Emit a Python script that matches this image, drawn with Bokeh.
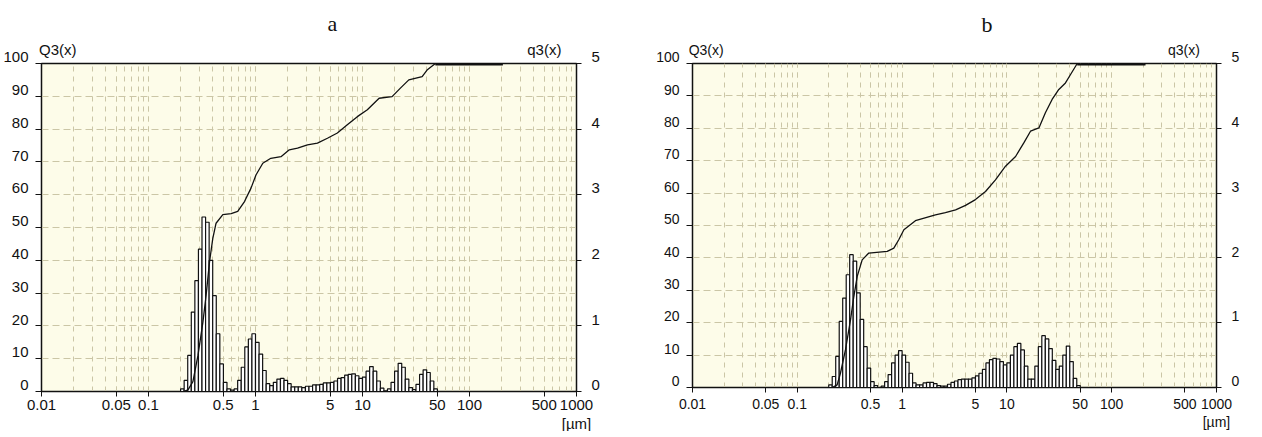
from bokeh.plotting import figure
from bokeh.models import Range1d, LinearAxis, LogAxis, FixedTicker, Title
from bokeh.layouts import row
from bokeh.embed import file_html
from bokeh.resources import INLINE

# ---------------- data ----------------
# size-class edges of the histogram [µm]
size_edges = [0.1995, 0.2154, 0.2326, 0.2512, 0.2712, 0.2929, 0.3162, 0.3415, 0.3687, 0.3981,
              0.4299, 0.4642, 0.5012, 0.5412, 0.5843, 0.6310, 0.6813, 0.7356, 0.7943, 0.8577,
              0.9261, 1.000, 1.080, 1.166, 1.259, 1.359, 1.468, 1.585, 1.711, 1.848,
              1.995, 2.154, 2.326, 2.512, 2.712, 2.929, 3.162, 3.415, 3.687, 3.981,
              4.299, 4.642, 5.012, 5.412, 5.843, 6.310, 6.813, 7.356, 7.943, 8.577,
              9.261, 10.00, 10.80, 11.66, 12.59, 13.59, 14.68, 15.85, 17.11, 18.48,
              19.95, 21.54, 23.26, 25.12, 27.12, 29.29, 31.62, 34.15, 36.87, 39.81,
              42.99, 46.42, 50.12]

# density distribution q3(x), panel a
q3_a = [0.04, 0.17, 0.55, 1.21, 1.69, 2.17, 2.66, 2.58, 2.00, 1.46,
        0.88, 0.42, 0.14, 0.04, 0.02, 0.04, 0.17, 0.37, 0.68, 0.80,
        0.88, 0.75, 0.57, 0.32, 0.12, 0.09, 0.14, 0.19, 0.20, 0.17,
        0.12, 0.07, 0.07, 0.07, 0.06, 0.08, 0.08, 0.10, 0.10, 0.11,
        0.13, 0.13, 0.14, 0.16, 0.20, 0.21, 0.25, 0.26, 0.27, 0.24,
        0.20, 0.22, 0.31, 0.38, 0.31, 0.16, 0.05, 0.01, 0.04, 0.14,
        0.31, 0.43, 0.37, 0.19, 0.06, 0.03, 0.11, 0.26, 0.33, 0.29,
        0.16, 0.04]

# density distribution q3(x), panel b
q3_b = [0.04, 0.17, 0.48, 1.02, 1.38, 1.74, 2.05, 1.95, 1.46, 1.05,
        0.63, 0.30, 0.09, 0.03, 0.00, 0.02, 0.09, 0.20, 0.38, 0.50,
        0.57, 0.50, 0.39, 0.22, 0.07, 0.04, 0.04, 0.07, 0.08, 0.08,
        0.06, 0.03, 0.02, 0.02, 0.05, 0.08, 0.10, 0.12, 0.13, 0.13,
        0.13, 0.15, 0.18, 0.22, 0.28, 0.38, 0.43, 0.45, 0.44, 0.40,
        0.35, 0.38, 0.50, 0.63, 0.68, 0.58, 0.33, 0.13, 0.13, 0.33,
        0.63, 0.80, 0.75, 0.60, 0.42, 0.28, 0.33, 0.50, 0.64, 0.40,
        0.14, 0.03]

# cumulative distribution Q3(x) [%], panel a
Q3_a_x = [0.21, 0.234, 0.26, 0.29, 0.322, 0.346, 0.372, 0.399, 0.428, 0.495,
          0.592, 0.682, 0.789, 0.908, 1.01, 1.17, 1.39, 1.73, 2.07, 2.47,
          3.06, 3.79, 4.70, 5.82, 7.21, 8.95, 11.1, 14.3, 18.9, 22.6,
          27.1, 36.1, 40.1, 48.0, 205]
Q3_a_y = [0, 0.5, 3, 11, 21, 29.5, 39.6, 46.7, 51.3, 53.9,
          54.2, 54.9, 57.9, 62, 66, 69.6, 71.1, 71.6, 73.7, 74.2,
          75.2, 75.7, 77.2, 78.8, 81.3, 83.8, 85.9, 89.4, 89.9, 92.5,
          95, 96, 98, 100, 100]

# cumulative distribution Q3(x) [%], panel b
Q3_b_x = [0.215, 0.24, 0.258, 0.288, 0.322, 0.346, 0.373, 0.416, 0.481, 0.721,
          0.834, 0.929, 1.04, 1.34, 2.08, 2.59, 3.24, 4.03, 5.01, 6.25,
          7.78, 9.70, 12.1, 14.5, 16.8, 20.2, 23.3, 27.0, 31.3, 36.2,
          40.5, 46.9, 210]
Q3_b_y = [0, 0.8, 4.4, 11.6, 20.9, 28, 34.3, 39.4, 41.5, 42,
          43, 45.6, 48.7, 51.5, 53.3, 54, 54.8, 56.2, 58, 60.5,
          64.1, 68.3, 71.3, 75.5, 79.1, 80.1, 84.8, 88.9, 92, 94,
          96.6, 100, 100]

x_tick_values = [0.01, 0.05, 0.1, 0.5, 1, 5, 10, 50, 100, 500, 1000]
x_tick_labels = ["0.01", "0.05", "0.1", "0.5", "1", "5", "10", "50", "100", "500", "1000\n[µm]"]
left_ticks = [0, 10, 20, 30, 40, 50, 60, 70, 80, 90, 100]
left_labels = ["0", "10", "20", "30", "40", "50", "60", "70", "80", "90", "100"]
right_ticks = [0, 1, 2, 3, 4, 5]
right_labels = ["0", "1", "2", "3", "4", "5"]
caption_labels = ["Q3(x)", "q3(x)"]

# ---------------- style ----------------
FONT = "Liberation Sans, Arial, sans-serif"
SERIF = "Liberation Serif, Times New Roman, serif"
BG = "#fdfce9"
GRID = "#cbc6a6"
INK = "#111111"

minor_x = [m * d for d in [0.01, 0.1, 1, 10, 100] for m in range(1, 10)] + [1000]


def make_panel(title, q3_vals, cx, cy, fw, fh, bl, br, bt, bb, fs, xstand, caption_x, toff):
    p = figure(x_axis_type="log", x_range=Range1d(0.01, 1000), y_range=Range1d(0, 100),
               frame_width=fw, frame_height=fh, title=None,
               min_border_left=bl, min_border_right=br, min_border_top=bt, min_border_bottom=bb,
               output_backend="svg", toolbar_location=None,
               background_fill_color=BG, border_fill_color="white")
    p.extra_y_ranges = {"q3": Range1d(0, 5)}

    p.outline_line_color = INK
    p.outline_line_width = 1.5

    # x axis (bottom)
    xt = FixedTicker(ticks=x_tick_values, minor_ticks=minor_x)
    p.xaxis.ticker = xt
    p.xaxis.major_label_overrides = {v: s for v, s in zip(x_tick_values, x_tick_labels)}
    p.xaxis.minor_tick_line_color = None
    p.xaxis.major_tick_in = 0
    p.xaxis.major_tick_out = 5
    p.xaxis.major_label_standoff = xstand
    p.xaxis.major_label_text_font = FONT
    p.xaxis.major_label_text_font_size = f"{fs}px"
    p.xaxis.major_label_text_line_height = 1.15
    p.xaxis.major_label_text_color = INK
    p.xaxis.axis_line_color = INK
    p.xaxis.major_tick_line_color = INK

    # left axis (labels sit just above their ticks)
    yt = FixedTicker(ticks=left_ticks)
    p.yaxis.ticker = yt
    p.yaxis.major_label_overrides = {v: s + "\n" for v, s in zip(left_ticks, left_labels)}
    p.yaxis.minor_tick_line_color = None
    p.yaxis.major_tick_in = 0
    p.yaxis.major_tick_out = 6
    p.yaxis.major_label_standoff = 7
    p.yaxis.major_label_text_font = FONT
    p.yaxis.major_label_text_font_size = f"{fs}px"
    p.yaxis.major_label_text_line_height = 0.8
    p.yaxis.major_label_text_color = INK
    p.yaxis.axis_line_color = INK
    p.yaxis.major_tick_line_color = INK

    # grids
    p.xgrid.ticker = xt
    p.xgrid.grid_line_color = GRID
    p.xgrid.grid_line_dash = "5 5"
    p.xgrid.minor_grid_line_color = GRID
    p.xgrid.minor_grid_line_dash = "5 5"
    p.ygrid.ticker = yt
    p.ygrid.grid_line_color = GRID
    p.ygrid.grid_line_dash = "7 4"

    # right axis q3(x)
    ra = LinearAxis(y_range_name="q3", ticker=FixedTicker(ticks=right_ticks),
                    major_label_overrides={v: s + "\n" for v, s in zip(right_ticks, right_labels)})
    ra.minor_tick_line_color = None
    ra.major_tick_in = 0
    ra.major_tick_out = 5
    ra.major_label_standoff = 10
    ra.major_label_text_font = FONT
    ra.major_label_text_font_size = f"{fs}px"
    ra.major_label_text_line_height = 0.8
    ra.major_label_text_color = INK
    ra.axis_line_color = INK
    ra.major_tick_line_color = INK
    p.add_layout(ra, "right")

    # captions "Q3(x)" / "q3(x)" above the frame
    ta = LogAxis(ticker=FixedTicker(ticks=caption_x),
                 major_label_overrides={v: s for v, s in zip(caption_x, caption_labels)})
    ta.axis_line_color = None
    ta.major_tick_line_color = None
    ta.minor_tick_line_color = None
    ta.major_tick_out = 0
    ta.major_label_standoff = 6
    ta.major_label_text_font = FONT
    ta.major_label_text_font_size = f"{fs}px"
    ta.major_label_text_color = INK
    p.add_layout(ta, "above")

    # panel title
    t = Title(text=title, align="left", offset=toff, standoff=4,
              text_font=SERIF, text_font_size="22px", text_font_style="normal", text_color=INK)
    p.add_layout(t, "above")

    # histogram q3(x)
    p.quad(left=size_edges[:-1], right=size_edges[1:], bottom=0, top=q3_vals,
           y_range_name="q3", fill_color="white", line_color=INK, line_width=1.2)

    # cumulative Q3(x)
    p.line(cx, cy, line_color=INK, line_width=1.3)
    p.line(cx[-2:], cy[-2:], line_color=INK, line_width=4)
    return p


pa = make_panel("a", q3_a, Q3_a_x, Q3_a_y, fw=535, fh=328, bl=38, br=76, bt=59, bb=39,
                fs=15, xstand=-1, caption_x=[0.0142, 501], toff=286)
pb = make_panel("b", q3_b, Q3_b_x, Q3_b_y, fw=524, fh=324, bl=40, br=33, bt=63, bb=39,
                fs=14, xstand=3, caption_x=[0.0135, 488], toff=289)

layout = row(pa, pb)
open("out.html", "w").write(file_html(layout, INLINE))
